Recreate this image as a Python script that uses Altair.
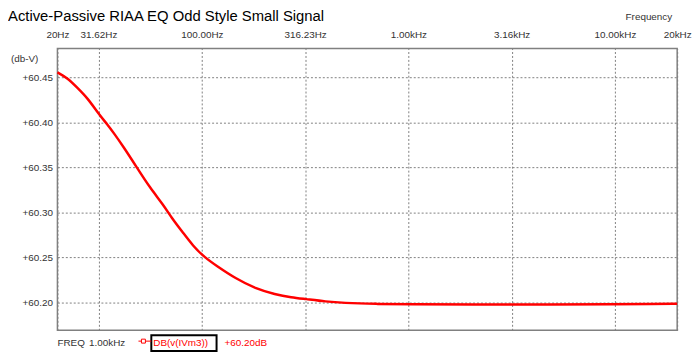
import altair as alt
import pandas as pd

# ---- data ----
freq_hz = [20, 22.4, 25.0, 27.9, 31.8, 34.8, 37.5, 41.8, 48.4, 56.2, 65.0, 71.3, 81.0, 90.5,
           102.9, 117.0, 145.8, 181.7, 226.5, 272.3, 316, 400, 481, 700, 1000, 2000, 5000, 10000, 15000, 20000]
db_v = [60.4555, 60.4492, 60.4383, 60.4273, 60.4089, 60.3980, 60.3881, 60.3727, 60.3501, 60.3270,
        60.3087, 60.2941, 60.2776, 60.2629, 60.2502, 60.2410, 60.2264, 60.2154, 60.2088, 60.2055,
        60.2038, 60.2008, 60.1994, 60.1982, 60.1978, 60.1974, 60.1976, 60.1979, 60.1983, 60.1985]

x_ticks = [20, 31.62, 100, 316.23, 1000, 3162.3, 10000, 20000]
x_tick_labels = ["20Hz", "31.62Hz", "100.00Hz", "316.23Hz", "1.00kHz", "3.16kHz", "10.00kHz", "20kHz"]
y_ticks = [60.20, 60.25, 60.30, 60.35, 60.40, 60.45]

title_text = "Active-Passive RIAA EQ Odd Style Small Signal"
x_title = "Frequency"
y_title = "(db-V)"
cursor_name = "FREQ"
cursor_value = "1.00kHz"
trace_name = "DB(v(IVm3))"
trace_value = "+60.20dB"

df = pd.DataFrame({"f": freq_hz, "v": db_v})

label_expr = " : ".join(
    f"abs(datum.value - {v}) < {v * 0.001} ? '{l}'" for v, l in zip(x_ticks, x_tick_labels)
) + " : ''"

FONT = "Liberation Sans"
W, H = 627, 285

line = alt.Chart(df).mark_line(color="#ff0000", strokeWidth=2.5, interpolate="basis").encode(
    x=alt.X("f:Q",
            scale=alt.Scale(type="log", domain=[20, 20000], nice=False),
            axis=alt.Axis(orient="top", values=x_ticks, labelExpr=label_expr, title=None,
                          grid=True, gridColor="#808080", gridDash=[2, 2], gridWidth=1,
                          ticks=False, domain=False, labelPadding=9, labelFont=FONT,
                          labelFontSize=10, labelColor="#333333", labelFlush=False)),
    y=alt.Y("v:Q",
            scale=alt.Scale(domain=[60.169, 60.482], nice=False, zero=False),
            axis=alt.Axis(values=y_ticks, format="+.2f", title=None,
                          grid=True, gridColor="#808080", gridDash=[2, 2], gridWidth=1,
                          ticks=False, domain=False, labelPadding=5, labelFont=FONT,
                          labelFontSize=10, labelColor="#333333")),
)

one = pd.DataFrame({"k": [0]})

def txt(s, x, y, size=10, color="#333333", align="left", baseline="middle"):
    return alt.Chart(one).mark_text(text=s, font=FONT, fontSize=size, color=color,
                                    align=align, baseline=baseline).encode(
        x=alt.value(x), y=alt.value(y))

title = txt(title_text, -50, -28, size=15, color="#000000", baseline="alphabetic")
xt = txt(x_title, 622, -32, align="right")
yt = txt(y_title, -47, 11)
cur1 = txt(cursor_name, 0, 298)
cur2 = txt(cursor_value, 32, 298)
tname = txt(trace_name, 97, 298, color="#ff0000")
tval = txt(trace_value, 169, 298, color="#ff0000")

box = alt.Chart(one).mark_rect(fill=None, stroke="#000000", strokeWidth=2).encode(
    x=alt.value(95), x2=alt.value(161), y=alt.value(290), y2=alt.value(306))
sym_line = alt.Chart(one).mark_rule(color="#ff0000", strokeWidth=1).encode(
    x=alt.value(82), x2=alt.value(95), y=alt.value(296))
sym_pt = alt.Chart(one).mark_point(shape="square", size=16, color="#ff0000", filled=False,
                                   fill="#ffffff", opacity=1, strokeWidth=1).encode(
    x=alt.value(87), y=alt.value(296))

chart = alt.layer(line, box, sym_line, sym_pt, title, xt, yt, cur1, cur2, tname, tval).properties(
    width=W, height=H,
    autosize=alt.AutoSizeParams(type="none"),
    padding={"left": 50, "top": 39, "right": 15, "bottom": 22},
    background="#ffffff",
).configure_view(stroke="#808080", strokeWidth=1.5)

chart.save("out.html", embed_options={"renderer": "svg", "actions": False})
